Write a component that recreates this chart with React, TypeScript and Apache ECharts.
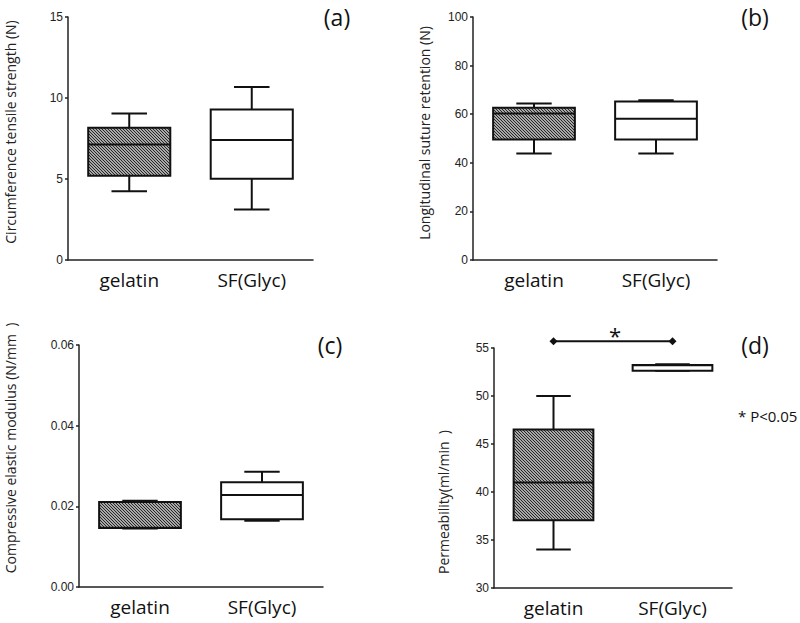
import React, { useEffect, useRef } from "react";
import * as echarts from "echarts";

// categories
const categories = ["gelatin", "SF(Glyc)"];

// five-number summaries: [min, Q1, median, Q3, max]
const tensileGelatin = [4.25, 5.2, 7.13, 8.16, 9.04];
const tensileSF = [3.12, 5.01, 7.4, 9.29, 10.68];

const sutureGelatin = [43.8, 49.6, 60.3, 62.7, 64.4];
const sutureSF = [43.8, 49.6, 58.1, 65.2, 65.75];

const modulusGelatin = [0.0145, 0.0146, 0.0147, 0.0211, 0.0214];
const modulusSF = [0.0164, 0.0168, 0.0228, 0.026, 0.0286];

const permGelatin = [34.0, 37.05, 41.0, 46.5, 50.0];
const permSF = [52.64, 52.64, 53.2, 53.23, 53.3];

// significance bar level in panel (d)
const significanceLevel = 55.7;

// axis ranges / ticks
const axisA = { min: 0, max: 15, interval: 5 };
const axisB = { min: 0, max: 100, interval: 20 };
const axisC = { min: 0, max: 0.06, interval: 0.02 };
const axisD = { min: 30, max: 55, interval: 5 };

const titles = [
  "Circumference tensile strength (N)",
  "Longitudinal suture retention (N)",
  "Compressive elastic modulus (N/mm  )",
  "Permeability(ml/min  )",
];
const panelLabels = ["(a)", "(b)", "(c)", "(d)"];

export default function App() {
  const ref = useRef<HTMLDivElement>(null);

  useEffect(() => {
    document.body.style.margin = "0";
    if (!ref.current) return;
    const chart = echarts.init(ref.current, null, { renderer: "svg" });

    // hatch pattern
    const c = document.createElement("canvas");
    c.width = 3;
    c.height = 3;
    const ctx = c.getContext("2d")!;
    ctx.fillStyle = "#a8a8a8";
    ctx.fillRect(0, 0, 3, 3);
    ctx.fillStyle = "#262626";
    for (let y = 0; y < 3; y++)
      for (let x = 0; x < 3; x++) if ((((x - y) % 3) + 3) % 3 === 0) ctx.fillRect(x, y, 1, 1);
    const hatch: any = { image: c, repeat: "repeat" };

    const grids = [
      { left: 68, top: 17, width: 245, height: 243 },
      { left: 473, top: 17, width: 244, height: 243 },
      { left: 79, top: 345, width: 244, height: 242 },
      { left: 494, top: 348, width: 238, height: 240 },
    ];
    const ranges = [axisA, axisB, axisC, axisD];

    const renderBox = (params: any, api: any) => {
      const xi = api.value(0);
      const vMin = api.coord([xi, api.value(1)]);
      const vQ1 = api.coord([xi, api.value(2)]);
      const vMed = api.coord([xi, api.value(3)]);
      const vQ3 = api.coord([xi, api.value(4)]);
      const vMax = api.coord([xi, api.value(5)]);
      const band = api.size([1, 0])[0];
      const bw = band * 0.67;
      const cw = band * 0.29;
      const cx = vMin[0];
      const ls = { stroke: "#111", lineWidth: 2 };
      return {
        type: "group",
        children: [
          { type: "line", shape: { x1: cx, y1: vMin[1], x2: cx, y2: vQ1[1] }, style: ls },
          { type: "line", shape: { x1: cx, y1: vQ3[1], x2: cx, y2: vMax[1] }, style: ls },
          { type: "line", shape: { x1: cx - cw / 2, y1: vMin[1], x2: cx + cw / 2, y2: vMin[1] }, style: ls },
          { type: "line", shape: { x1: cx - cw / 2, y1: vMax[1], x2: cx + cw / 2, y2: vMax[1] }, style: ls },
          {
            type: "rect",
            shape: { x: cx - bw / 2, y: vQ3[1], width: bw, height: vQ1[1] - vQ3[1] },
            style: { fill: xi === 0 ? hatch : "#fff", stroke: "#111", lineWidth: 2 },
          },
          { type: "line", shape: { x1: cx - bw / 2, y1: vMed[1], x2: cx + bw / 2, y2: vMed[1] }, style: ls },
        ],
      };
    };

    const datasets = [
      [tensileGelatin, tensileSF],
      [sutureGelatin, sutureSF],
      [modulusGelatin, modulusSF],
      [permGelatin, permSF],
    ];

    const series: any[] = datasets.map((d, i) => ({
      type: "custom",
      xAxisIndex: i,
      yAxisIndex: i,
      encode: { x: 0, y: [1, 2, 3, 4, 5] },
      renderItem: renderBox,
      clip: false,
      data: d.map((v, k) => [k, ...v]),
    }));

    series.push({
      type: "line",
      xAxisIndex: 3,
      yAxisIndex: 3,
      clip: false,
      symbol: "diamond",
      symbolSize: 8,
      itemStyle: { color: "#111" },
      lineStyle: { color: "#111", width: 2 },
      data: [
        [0, significanceLevel],
        [1, significanceLevel],
      ],
    });

    const titlePos = [
      { x: 10, y: 132 },
      { x: 424, y: 133 },
      { x: 10, y: 448 },
      { x: 443, y: 502 },
    ];
    const labelPos = [
      { x: 337, y: 17 },
      { x: 755, y: 17 },
      { x: 330, y: 345 },
      { x: 755, y: 345 },
    ];

    const graphic: any[] = [];
    titles.forEach((t, i) => {
      graphic.push({
        type: "text",
        x: titlePos[i].x,
        y: titlePos[i].y,
        rotation: Math.PI / 2,
        style: {
          text: t,
          fontFamily: "Open Sans",
          fontSize: 14,
          fill: "#222",
          textAlign: "center",
          textVerticalAlign: "middle",
        },
      });
    });
    panelLabels.forEach((t, i) => {
      graphic.push({
        type: "text",
        x: labelPos[i].x,
        y: labelPos[i].y,
        style: {
          text: t,
          fontFamily: "Open Sans",
          fontSize: 23,
          fill: "#111",
          textAlign: "center",
          textVerticalAlign: "middle",
        },
      });
    });
    graphic.push({
      type: "text",
      x: 615,
      y: 335,
      style: { text: "*", fontFamily: "Open Sans", fontSize: 22, fill: "#111", textAlign: "center", textVerticalAlign: "middle" },
    });
    graphic.push({
      type: "text",
      x: 738,
      y: 416,
      style: { text: "* P<0.05", fontFamily: "Open Sans", fontSize: 15, fill: "#111", textAlign: "left", textVerticalAlign: "middle" },
    });

    chart.setOption({
      animation: false,
      backgroundColor: "#fff",
      grid: grids,
      xAxis: grids.map((_, i) => ({
        type: "category",
        gridIndex: i,
        data: categories,
        boundaryGap: true,
        axisLine: { lineStyle: { color: "#222", width: 1.5 } },
        axisTick: { alignWithLabel: true, length: 4, lineStyle: { color: "#222", width: 1.5 } },
        axisLabel: { color: "#111", fontFamily: "Open Sans", fontSize: 19, margin: 10 },
        splitLine: { show: false },
      })),
      yAxis: grids.map((_, i) => ({
        type: "value",
        gridIndex: i,
        min: ranges[i].min,
        max: ranges[i].max,
        interval: ranges[i].interval,
        axisLine: { show: true, lineStyle: { color: "#222", width: 1.5 } },
        axisTick: { show: true, length: 3, lineStyle: { color: "#222", width: 1.5 } },
        axisLabel: {
          color: "#222",
          fontFamily: "Liberation Sans",
          fontSize: 12,
          margin: 5,
          formatter: i === 2 ? (v: number) => v.toFixed(2) : undefined,
        },
        splitLine: { show: false },
      })),
      series,
      graphic,
    });

    return () => chart.dispose();
  }, []);

  return <div ref={ref} style={{ width: 800, height: 623 }} />;
}
